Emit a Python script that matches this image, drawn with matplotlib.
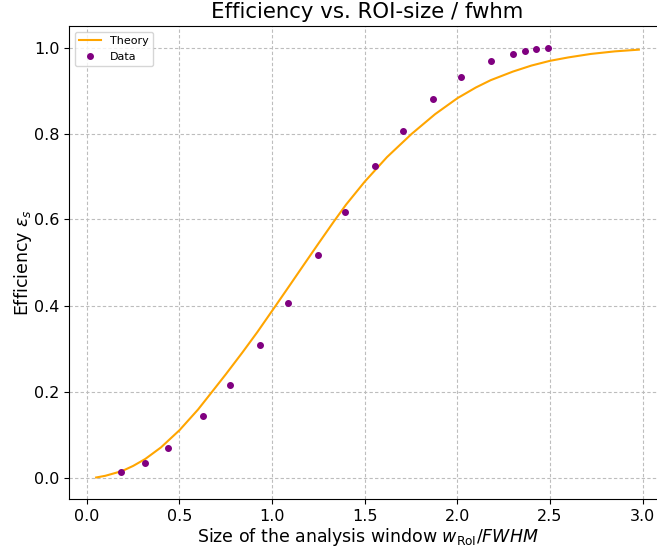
import numpy as np
import matplotlib.pyplot as plt

# theory curve
theory_x = [0.05, 0.10, 0.19, 0.25, 0.315, 0.40, 0.50, 0.60, 0.677, 0.75, 0.84, 0.92,
            1.02, 1.10, 1.17, 1.25, 1.336, 1.40, 1.50, 1.62, 1.753, 1.88, 2.00, 2.10, 2.18,
            2.30, 2.40, 2.50, 2.60, 2.72, 2.85, 2.98]
theory_y = [0.000, 0.004, 0.015, 0.027, 0.043, 0.070, 0.110, 0.158, 0.200, 0.240, 0.291, 0.338,
            0.400, 0.450, 0.494, 0.544, 0.597, 0.635, 0.688, 0.745, 0.799, 0.845, 0.882, 0.907, 0.924,
            0.944, 0.958, 0.969, 0.977, 0.985, 0.991, 0.995]

# measured points
data_x = [0.186, 0.315, 0.438, 0.625, 0.774, 0.936, 1.085, 1.247, 1.396, 1.556,
          1.707, 1.869, 2.018, 2.182, 2.303, 2.364, 2.425, 2.490]
data_y = [0.012, 0.033, 0.068, 0.142, 0.216, 0.309, 0.406, 0.517, 0.618, 0.724,
          0.806, 0.880, 0.932, 0.968, 0.986, 0.993, 0.997, 1.000]

fig = plt.figure(figsize=(6.57, 5.51), dpi=100)
# right edge of the axes sits just past the image border, as in the original
ax = fig.add_axes([69/657, 1-499/551, 597/657, 473/551])

ax.plot(theory_x, theory_y, '-', color='orange', lw=1.5, label='Theory')
ax.plot(data_x, data_y, 'o', color='purple', ms=4, label='Data')

ax.set_xlim(-0.0965, 3.1265)
ax.set_ylim(-0.05, 1.05)
ax.set_xticks(np.arange(0, 3.01, 0.5))
ax.set_yticks(np.arange(0, 1.01, 0.2))
ax.tick_params(labelsize=11.5)
ax.grid(True, linestyle=(0, (3, 2)), color='#bdbdbd', lw=0.8)

ax.set_title('Efficiency vs. ROI-size / fwhm', fontsize=15.3)
ax.set_xlabel(r'Size of the analysis window $w_{\mathrm{RoI}}/FWHM$', fontsize=12.5, labelpad=2)
ax.set_ylabel(r'Efficiency $\varepsilon_s$', fontsize=12.5, labelpad=0)
ax.legend(loc=2, fontsize=8)

fig.savefig('out.png', dpi=100)
